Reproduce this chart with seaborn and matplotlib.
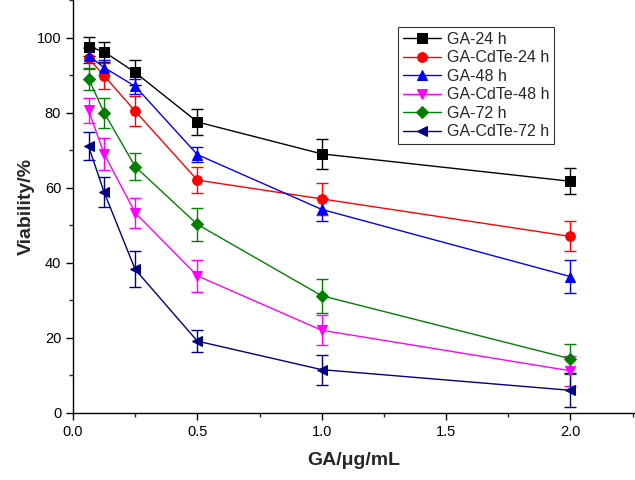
import matplotlib

matplotlib.use("Agg")
import matplotlib.pyplot as plt
import pandas as pd
import seaborn as sns
from matplotlib.ticker import FormatStrFormatter, MultipleLocator

# concentrations (ug/mL)
conc = [0.0625, 0.125, 0.25, 0.5, 1.0, 2.0]

series_names = [
    "GA-24 h",
    "GA-CdTe-24 h",
    "GA-48 h",
    "GA-CdTe-48 h",
    "GA-72 h",
    "GA-CdTe-72 h",
]

ga_24 = [97.6, 96.2, 90.7, 77.5, 69.0, 61.7]
ga_cdte_24 = [94.5, 89.8, 80.4, 62.0, 57.0, 47.0]
ga_48 = [95.2, 92.0, 87.0, 68.8, 54.2, 36.3]
ga_cdte_48 = [80.6, 69.0, 53.3, 36.5, 22.0, 11.2]
ga_72 = [89.0, 80.0, 65.6, 50.2, 31.2, 14.4]
ga_cdte_72 = [71.0, 58.8, 38.2, 19.1, 11.5, 6.0]

ga_24_err = [2.5, 2.7, 3.3, 3.5, 4.0, 3.5]
ga_cdte_24_err = [3.0, 3.4, 4.0, 3.5, 4.3, 4.0]
ga_48_err = [2.0, 2.0, 2.0, 2.0, 3.0, 4.4]
ga_cdte_48_err = [3.3, 4.3, 4.0, 4.3, 4.0, 4.0]
ga_72_err = [3.0, 4.0, 3.6, 4.5, 4.5, 4.0]
ga_cdte_72_err = [3.7, 4.0, 4.8, 3.0, 4.0, 4.5]

values = [ga_24, ga_cdte_24, ga_48, ga_cdte_48, ga_72, ga_cdte_72]
errors = [ga_24_err, ga_cdte_24_err, ga_48_err, ga_cdte_48_err, ga_72_err, ga_cdte_72_err]

colors = ["#000000", "#ff0000", "#0000ff", "#ff00ff", "#008000", "#000080"]
markers = ["s", "o", "^", "v", "D", "<"]

rows = []
for name, vals, errs in zip(series_names, values, errors):
    for c, v, e in zip(conc, vals, errs):
        rows.append([name, c, v, e])
df = pd.DataFrame(rows, columns=["Sample", "Conc", "Viability", "SD"])

sns.set_style("ticks")
plt.rcParams["font.family"] = ["Liberation Sans", "DejaVu Sans"]

fig = plt.figure(figsize=(6.35, 4.8), dpi=100)
ax = fig.add_axes([0.115, 0.14, 0.885, 0.86])

for name, color, marker in zip(series_names, colors, markers):
    sub = df[df["Sample"] == name]
    ax.errorbar(
        sub["Conc"],
        sub["Viability"],
        yerr=sub["SD"],
        fmt="none",
        ecolor=color,
        elinewidth=1,
        capsize=4,
        capthick=1,
        zorder=2,
    )
    sns.lineplot(
        data=sub,
        x="Conc",
        y="Viability",
        color=color,
        marker=marker,
        markersize=7 if marker != "D" else 6.5,
        markeredgecolor=color,
        linewidth=1,
        label=name,
        ax=ax,
        zorder=3,
    )

ax.set_xlim(0, 2.26)
ax.set_ylim(0, 110)
ax.xaxis.set_major_locator(MultipleLocator(0.5))
ax.xaxis.set_minor_locator(MultipleLocator(0.25))
ax.xaxis.set_major_formatter(FormatStrFormatter("%.1f"))
ax.yaxis.set_major_locator(MultipleLocator(20))
ax.yaxis.set_minor_locator(MultipleLocator(10))
ax.tick_params(which="major", direction="out", length=5, width=1, labelsize=10.5, colors="black")
ax.tick_params(which="minor", direction="out", length=3, width=1)

for side in ["top", "right"]:
    ax.spines[side].set_visible(False)
for side in ["left", "bottom"]:
    ax.spines[side].set_color("black")
    ax.spines[side].set_linewidth(1)

ax.set_xlabel("GA/\u03bcg/mL", fontsize=14, fontweight="bold", labelpad=10)
ax.set_ylabel("Viability/%", fontsize=14, fontweight="bold", labelpad=1)

leg = ax.legend(
    loc="upper left",
    bbox_to_anchor=(0.627, 0.944),
    bbox_transform=fig.transFigure,
    fontsize=11.5,
    frameon=True,
    fancybox=False,
    edgecolor="black",
    handlelength=2.4,
    handletextpad=0.35,
    labelspacing=0.22,
    borderpad=0.3,
    borderaxespad=0,
)
leg.get_frame().set_linewidth(0.8)

fig.savefig("out.png", dpi=100)
